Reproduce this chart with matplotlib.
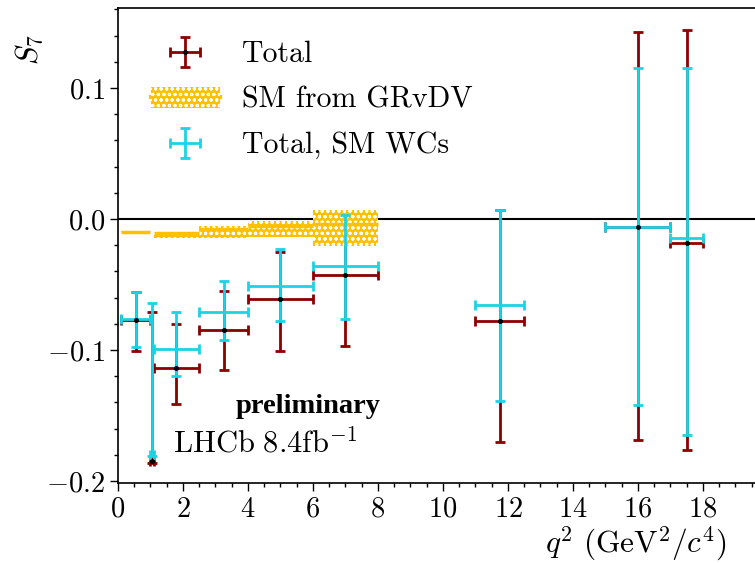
import numpy as np
import matplotlib
matplotlib.use("Agg")
import matplotlib.pyplot as plt
from matplotlib.ticker import MultipleLocator

plt.rcParams["font.family"] = "serif"
plt.rcParams["font.serif"] = ["cmr10"]
plt.rcParams["mathtext.fontset"] = "cm"
plt.rcParams["axes.formatter.use_mathtext"] = True
plt.rcParams["hatch.linewidth"] = 0.8

# q2 bins
bin_lo = np.array([0.1, 0.98, 1.1, 2.5, 4.0, 6.0, 11.0, 15.0, 17.0])
bin_hi = np.array([0.98, 1.1, 2.5, 4.0, 6.0, 8.0, 12.5, 17.0, 18.0])

# Total
tot_val = np.array([-0.077, -0.185, -0.114, -0.085, -0.061, -0.043, -0.078, -0.006, -0.018])
tot_up = np.array([-0.056, -0.071, -0.080, -0.055, -0.025, 0.003, 0.007, 0.143, 0.144])
tot_dn = np.array([-0.101, -0.186, -0.141, -0.115, -0.101, -0.097, -0.170, -0.169, -0.176])

# Total, SM WCs
wc_val = np.array([-0.076, -0.180, -0.099, -0.071, -0.051, -0.036, -0.066, -0.006, -0.0145])
wc_up = np.array([-0.056, -0.064, -0.071, -0.047, -0.023, 0.003, 0.007, 0.115, 0.115])
wc_dn = np.array([-0.0975, -0.181, -0.120, -0.092, -0.078, -0.076, -0.139, -0.142, -0.165])

# SM from GRvDV
sm_lo_edge = np.array([0.1, 1.1, 2.5, 4.0, 6.0])
sm_hi_edge = np.array([0.98, 2.5, 4.0, 6.0, 8.0])
sm_val = np.array([-0.010, -0.011, -0.008, -0.005, -0.004])
sm_dn = np.array([-0.0115, -0.0147, -0.0147, -0.0135, -0.0204])
sm_up = np.array([-0.0089, -0.0097, -0.0053, -0.0013, 0.0069])

x = (bin_lo + bin_hi) / 2
xerr = (bin_hi - bin_lo) / 2
SM_COL = "#FFC000"

fig = plt.figure(figsize=(7.55, 5.63), dpi=100)
ax = fig.add_axes([118 / 755, 80 / 563, 637 / 755, 475 / 563])

ax.axhline(0, color="black", lw=1.5, zorder=1)

h_tot = ax.errorbar(x, tot_val, xerr=xerr, yerr=[tot_val - tot_dn, tot_up - tot_val],
                    fmt=".", color="black", ms=5, ecolor="#8B0000", elinewidth=2,
                    capsize=3.5, capthick=2, zorder=2)
h_box = ax.bar(sm_lo_edge, sm_up - sm_dn, width=sm_hi_edge - sm_lo_edge, bottom=sm_dn,
               align="edge", color=SM_COL, edgecolor="white", hatch="ooo", lw=0,
               zorder=2.5)
ax.hlines(sm_val, sm_lo_edge, sm_hi_edge, color=SM_COL, lw=2.5, zorder=2.6)
h_line, = ax.plot([], [], color=SM_COL, lw=3)
h_wc = ax.errorbar(x, wc_val, xerr=xerr, yerr=[wc_val - wc_dn, wc_up - wc_val],
                   fmt="none", ecolor="#1CD3E3", elinewidth=2,
                   capsize=3.5, capthick=2, zorder=3)
ax.plot(x, tot_val, ".", color="black", ms=5, zorder=4)

ax.set_xlim(0, 19.6)
ax.set_ylim(-0.2015, 0.161)
ax.xaxis.set_major_locator(MultipleLocator(2))
ax.xaxis.set_minor_locator(MultipleLocator(0.5))
ax.yaxis.set_major_locator(MultipleLocator(0.1))
ax.yaxis.set_minor_locator(MultipleLocator(0.02))
ax.tick_params(which="major", length=6, width=1, labelsize=20.5)
ax.tick_params(which="minor", length=3, width=1)
ax.spines["right"].set_visible(False)
for s in ["top", "left", "bottom"]:
    ax.spines[s].set_linewidth(1.2)

ax.set_xlabel(r"$q^2\ (\mathrm{GeV}^2/c^4)$", fontsize=22.5, ha="right")
ax.xaxis.set_label_coords(0.956, -0.087)
ax.set_ylabel(r"$S_7$", fontsize=22, ha="right")
ax.yaxis.set_label_coords(-0.114, 0.945)

ax.text(3.63, -0.148, "preliminary", family="Liberation Serif", weight="bold",
        fontsize=20.5, ha="left", va="baseline")
ax.text(1.69, -0.178, r"$\mathrm{LHCb}\ 8.4\mathrm{fb}^{-1}$", fontsize=22,
        va="baseline")

ax.legend([h_tot, (h_line, h_box), h_wc],
          ["Total", "SM from GRvDV", "Total, SM WCs"],
          loc="upper left", frameon=False, fontsize=21.5, handlelength=2.3,
          handletextpad=0.75, labelspacing=0.6, borderaxespad=0.7)

fig.savefig("out.png", dpi=100)
